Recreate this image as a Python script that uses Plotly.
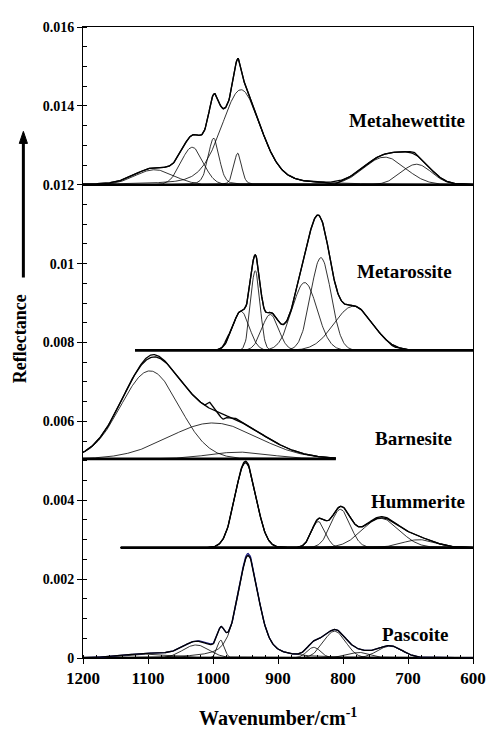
import numpy as np
import plotly.graph_objects as go

# ---------------- data ----------------
# Each spectrum: band centres (cm-1), band heights (reflectance above own baseline),
# band widths (FWHM, cm-1), Lorentzian fraction, baseline level and x-span.

# Metahewettite
mh_center = [1090, 1032, 999, 962, 957, 736, 687]
mh_height = [0.00038, 0.00095, 0.00118, 0.0008, 0.00241, 0.0007, 0.00052]
mh_width = [70, 40, 20, 14, 72, 75, 55]
mh_lor = [0, 0, 0.3, 0.3, 0.3, 0, 0]
mh_base = 0.012
mh_span = [1200, 600]
mh_res_center = [813, 690]
mh_res_height = [-0.00007, 0.00004]
mh_res_width = [14, 14]

# Metarossite
mr_center = [957, 935, 912, 859, 834, 784]
mr_height = [0.00099, 0.00202, 0.00091, 0.00172, 0.00235, 0.00112]
mr_width = [30, 17, 30, 45, 37, 70]
mr_lor = [0, 0, 0, 0, 0, 0]
mr_base = 0.0078
mr_span = [1120, 600]
mr_res_center = [978, 722]
mr_res_height = [0.00008, -0.00003]
mr_res_width = [8, 10]

# Barnesite
ba_center = [1097, 1000, 960]
ba_height = [0.00223, 0.00091, 0.00017]
ba_width = [105, 160, 110]
ba_lor = [0, 0, 0]
ba_base = 0.00505
ba_span = [1200, 811]
ba_res_center = [1004, 985, 962, 1095]
ba_res_height = [0.00016, -0.00012, 0.00004, 0.00006]
ba_res_width = [9, 10, 10, 30]

# Hummerite
hu_center = [950, 838, 804, 742, 683]
hu_height = [0.00215, 0.00066, 0.00097, 0.00074, 0.0002]
hu_width = [38, 25, 35, 67, 60]
hu_lor = [0, 0, 0, 0, 0]
hu_base = 0.0028
hu_span = [1142, 600]
hu_res_center = [948, 742]
hu_res_height = [0.00004, 0.00003]
hu_res_width = [20, 40]

# Pascoite
pa_center = [1095, 1026, 988, 946, 845, 813, 775, 728]
pa_height = [0.0001, 0.00033, 0.00045, 0.0026, 0.00027, 0.00068, 0.00014, 0.0003]
pa_width = [90, 48, 13, 38, 25, 40, 40, 45]
pa_lor = [0, 0, 0, 0.55, 0, 0, 0, 0]
pa_base = 0.0
pa_span = [1200, 600]
pa_res_center = [946, 1010]
pa_res_height = [0.00005, 0.00003]
pa_res_width = [20, 20]

names = ["Metahewettite", "Metarossite", "Barnesite", "Hummerite", "Pascoite"]
y_tick_vals = [0, 0.002, 0.004, 0.006, 0.008, 0.01, 0.012, 0.014, 0.016]
y_tick_text = ["0", "0.002", "0.004", "0.006", "0.008", "0.01", "0.012", "0.014", "0.016"]
x_tick_vals = [1200, 1100, 1000, 900, 800, 700, 600]

spectra = [
    (mh_center, mh_height, mh_width, mh_lor, mh_base, mh_span, mh_res_center, mh_res_height, mh_res_width),
    (mr_center, mr_height, mr_width, mr_lor, mr_base, mr_span, mr_res_center, mr_res_height, mr_res_width),
    (ba_center, ba_height, ba_width, ba_lor, ba_base, ba_span, ba_res_center, ba_res_height, ba_res_width),
    (hu_center, hu_height, hu_width, hu_lor, hu_base, hu_span, hu_res_center, hu_res_height, hu_res_width),
    (pa_center, pa_height, pa_width, pa_lor, pa_base, pa_span, pa_res_center, pa_res_height, pa_res_width),
]


def band(x, c, h, w, eta=0.0):
    d = (x - c) / w
    g = np.exp(-4 * np.log(2) * d * d)
    l = 1.0 / (1.0 + 4 * d * d)
    return h * (eta * l + (1 - eta) * g)


fig = go.Figure()
for i, (cen, hei, wid, lor, base, span, rc, rh, rw) in enumerate(spectra):
    x = np.arange(span[1], span[0] + 0.5, 1.0)
    # baseline
    fig.add_trace(go.Scatter(x=[span[0], span[1]], y=[base, base], mode="lines",
                             line=dict(color="black", width=2.6), hoverinfo="skip", showlegend=False))
    total = np.zeros_like(x)
    for c, h, w, e in zip(cen, hei, wid, lor):
        comp = band(x, c, h, w, e)
        total += comp
        fig.add_trace(go.Scatter(x=x, y=base + comp, mode="lines",
                                 line=dict(color="black", width=0.8), hoverinfo="skip", showlegend=False))
    measured = total.copy()
    for c, h, w in zip(rc, rh, rw):
        measured += band(x, c, h, w)
    meas_color = "#1a1a80" if i == 4 else "black"
    fig.add_trace(go.Scatter(x=x, y=base + measured, mode="lines",
                             line=dict(color=meas_color, width=1.3), hoverinfo="skip", showlegend=False))
    fig.add_trace(go.Scatter(x=x, y=base + total, mode="lines",
                             line=dict(color="black", width=1.3), hoverinfo="skip", showlegend=False))

lab_font = dict(family="Liberation Serif", size=19, color="black", weight="bold")
label_pos = [(702, 0.01364), (705, 0.00979), (692, 0.005576), (684, 0.003963), (690, 0.000605)]
annotations = []
for name, (lx, ly) in zip(names, label_pos):
    annotations.append(dict(x=lx, y=ly, xref="x", yref="y", text=name, showarrow=False,
                            font=lab_font, xanchor="center", yanchor="middle"))

# y-axis title
annotations.append(dict(x=-0.161, y=0.5055, xref="paper", yref="paper", text="Reflectance",
                        textangle=-90, showarrow=False, xanchor="center", yanchor="middle",
                        font=dict(family="Liberation Serif", size=18, color="black", weight="bold")))
# x-axis title
annotations.append(dict(x=0.5, y=-0.094, xref="paper", yref="paper",
                        text="Wavenumber/cm<sup>-1</sup>", showarrow=False,
                        xanchor="center", yanchor="middle",
                        font=dict(family="Liberation Serif", size=20, color="black", weight="bold")))

# arrow next to the y-axis title (shaft + head as shapes)
ax_x = -0.1529
shapes = [
    dict(type="line", xref="paper", yref="paper", x0=ax_x, x1=ax_x, y0=0.603, y1=0.82,
         line=dict(color="black", width=3)),
    dict(type="path", xref="paper", yref="paper",
         path=f"M {ax_x - 0.0105} 0.8155 L {ax_x + 0.0105} 0.8155 L {ax_x} 0.8346 Z",
         fillcolor="black", line=dict(color="black", width=1)),
]

# page body adds an 8px offset, so the figure is 8px smaller and margins shifted
fig.update_layout(
    width=490, height=721,
    margin=dict(l=75, r=14, t=15, b=71),
    paper_bgcolor="white", plot_bgcolor="white",
    showlegend=False,
    annotations=annotations,
    shapes=shapes,
)
fig.update_xaxes(
    range=[1200, 600], tickvals=x_tick_vals,
    ticks="outside", ticklen=5, tickwidth=1, tickcolor="black",
    minor=dict(dtick=20, ticks="inside", ticklen=3, tickwidth=1, tickcolor="black"),
    showline=True, linecolor="black", linewidth=1, mirror=True,
    showgrid=False, zeroline=False,
    tickfont=dict(family="Liberation Serif", size=17, color="black", weight="bold"),
)
fig.update_yaxes(
    range=[0, 0.016], tickvals=y_tick_vals, ticktext=y_tick_text,
    ticks="outside", ticklen=5, tickwidth=1, tickcolor="black",
    minor=dict(dtick=0.0005, ticks="inside", ticklen=4, tickwidth=1, tickcolor="black"),
    showline=True, linecolor="black", linewidth=1, mirror=True,
    showgrid=False, zeroline=False,
    tickfont=dict(family="Liberation Serif", size=14, color="black", weight="bold"),
)

fig.write_html("out.html")
